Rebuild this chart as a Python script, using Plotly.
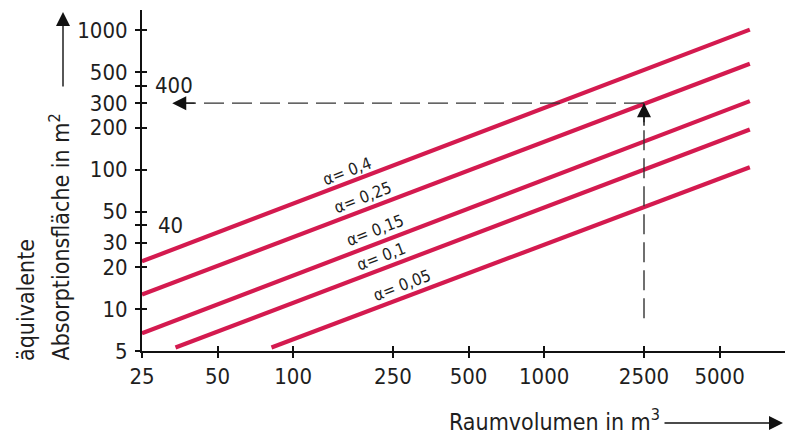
import numpy as np
import plotly.graph_objects as go

# ---------------- data ----------------
alpha = [0.4, 0.25, 0.15, 0.1, 0.05]
v_start = [25, 25, 25, 34, 82]          # Raumvolumen at line start (m^3)
a_start = [22, 12.7, 6.7, 5.3, 5.3]     # equivalent absorption area at start (m^2)
v_end = [6600, 6600, 6600, 6600, 6600]
a_end = [1010, 575, 310, 194, 104]

x_ticks = [25, 50, 100, 250, 500, 1000, 2500, 5000]
y_ticks = [5, 10, 20, 30, 40, 50, 100, 200, 300, 400, 500, 1000]
y_tick_text = ["5", "10", "20", "30", "", "50", "100", "200", "300", "", "500", "1000"]
inner_labels = [400, 40]

example_volume = 2500
example_area = 300
example_start_area = 8.6
example_end_volume = 33

# ---------------- layout helpers ----------------
OFF = 8                      # page body margin of the html page
W, H = 800 - OFF, 437 - OFF
ML, MR, MT, MB = 142 - OFF, 15, 10 - OFF, 86
PW, PH = W - ML - MR, H - MT - MB


def pxx(x):
    """reference page x pixel -> paper fraction"""
    return (x - OFF - ML) / PW


def pxy(y):
    """reference page y pixel -> paper fraction"""
    return (H - MB - (y - OFF)) / PH


FONT = "DejaVu Sans Condensed, Liberation Sans Narrow, sans-serif"
RED = "#d41a4f"
INK = "#1e1e1e"

x_range = [np.log10(25), np.log10(25) + PW / 251.0]
y_range = [np.log10(5), np.log10(5) + PH / 139.4]

fig = go.Figure()

for a, xs, ys, xe, ye in zip(alpha, v_start, a_start, v_end, a_end):
    fig.add_trace(go.Scatter(x=[xs, xe], y=[ys, ye], mode="lines",
                             line=dict(color=RED, width=4.2),
                             showlegend=False, hoverinfo="skip"))

# example reading (dashed)
fig.add_trace(go.Scatter(x=[example_volume, example_volume], y=[example_start_area, example_area],
                         mode="lines", line=dict(color="#333333", width=1.4, dash="20px,8px"),
                         showlegend=False, hoverinfo="skip"))
fig.add_trace(go.Scatter(x=[example_volume, example_end_volume], y=[example_area, example_area],
                         mode="lines", line=dict(color="#333333", width=1.4, dash="20px,8px"),
                         showlegend=False, hoverinfo="skip"))

# empty trace to carry the crossing-tick overlay axes
fig.add_trace(go.Scatter(x=[], y=[], xaxis="x2", yaxis="y2", showlegend=False, hoverinfo="skip"))

annotations = []

# alpha labels along lines
label_pos = [(347, 171.7), (363, 198), (375, 230), (381.7, 256.7), (401.7, 285)]
for a, (lx, ly) in zip(alpha, label_pos):
    annotations.append(dict(text="α= " + str(a).replace(".", ","), x=pxx(lx), y=pxy(ly),
                            xref="paper", yref="paper", xanchor="center", yanchor="middle",
                            showarrow=False, textangle=-21,
                            font=dict(family=FONT, size=16.5, color=INK)))

# 400 and 40 inside labels
for v, cx in zip(inner_labels, [174, 170]):
    annotations.append(dict(text=str(v), x=pxx(cx), y=np.log10(v), xref="paper", yref="y",
                            xanchor="center", yanchor="middle",
                            showarrow=False, font=dict(family=FONT, size=22, color=INK)))

# arrowheads of example reading
annotations.append(dict(text="", x=np.log10(example_volume), y=np.log10(example_area),
                        xref="x", yref="y", showarrow=True, ax=0, ay=24,
                        arrowhead=2, arrowsize=2, arrowwidth=1.4, arrowcolor="#111111"))
annotations.append(dict(text="", x=np.log10(example_end_volume), y=np.log10(example_area),
                        xref="x", yref="y", showarrow=True, ax=24, ay=0,
                        arrowhead=2, arrowsize=2, arrowwidth=1.4, arrowcolor="#111111"))

# axis titles
annotations.append(dict(text="Raumvolumen in m<sup>3</sup>", x=pxx(447), y=pxy(420),
                        xref="paper", yref="paper", xanchor="left", yanchor="middle",
                        showarrow=False, font=dict(family=FONT, size=23, color=INK)))
annotations.append(dict(text="", x=pxx(783), y=pxy(423), xref="paper", yref="paper",
                        showarrow=True, ax=-120, ay=0, arrowhead=2, arrowsize=2,
                        arrowwidth=1.4, arrowcolor="#111111"))
annotations.append(dict(text="äquivalente", x=pxx(26), y=pxy(363), xref="paper", yref="paper",
                        xanchor="center", yanchor="bottom", textangle=-90, showarrow=False,
                        font=dict(family=FONT, size=23, color=INK)))
annotations.append(dict(text="Absorptionsfläche in m<sup>2</sup>", x=pxx(59), y=pxy(363),
                        xref="paper", yref="paper", xanchor="center", yanchor="bottom",
                        textangle=-90, showarrow=False, font=dict(family=FONT, size=23, color=INK)))
annotations.append(dict(text="", x=pxx(63), y=pxy(12), xref="paper", yref="paper",
                        showarrow=True, ax=0, ay=76, arrowhead=2, arrowsize=2,
                        arrowwidth=1.4, arrowcolor="#111111"))

axis_common = dict(showgrid=False, zeroline=False, tickcolor="#111111", tickwidth=1.5, ticklen=5)

fig.update_layout(
    width=W, height=H,
    margin=dict(l=ML, r=MR, t=MT, b=MB, pad=0),
    paper_bgcolor="white", plot_bgcolor="white",
    showlegend=False,
    font=dict(family=FONT, size=22, color=INK),
    xaxis=dict(type="log", range=x_range, tickvals=x_ticks, ticktext=[str(t) for t in x_ticks],
               ticks="outside", showline=True, linecolor="#111111", linewidth=2,
               tickfont=dict(family=FONT, size=22, color=INK), **axis_common),
    yaxis=dict(type="log", range=y_range, tickvals=y_ticks, ticktext=y_tick_text,
               ticks="outside", showline=True, linecolor="#111111", linewidth=2,
               ticklabelstandoff=3,
               tickfont=dict(family=FONT, size=22, color=INK), **axis_common),
    xaxis2=dict(type="log", range=x_range, tickvals=x_ticks, overlaying="x", anchor="y",
                ticks="inside", showticklabels=False, showline=False, **axis_common),
    yaxis2=dict(type="log", range=y_range, tickvals=y_ticks, overlaying="y", anchor="x",
                ticks="inside", showticklabels=False, showline=False, **axis_common),
    annotations=annotations,
)

fig.write_html("out.html")
